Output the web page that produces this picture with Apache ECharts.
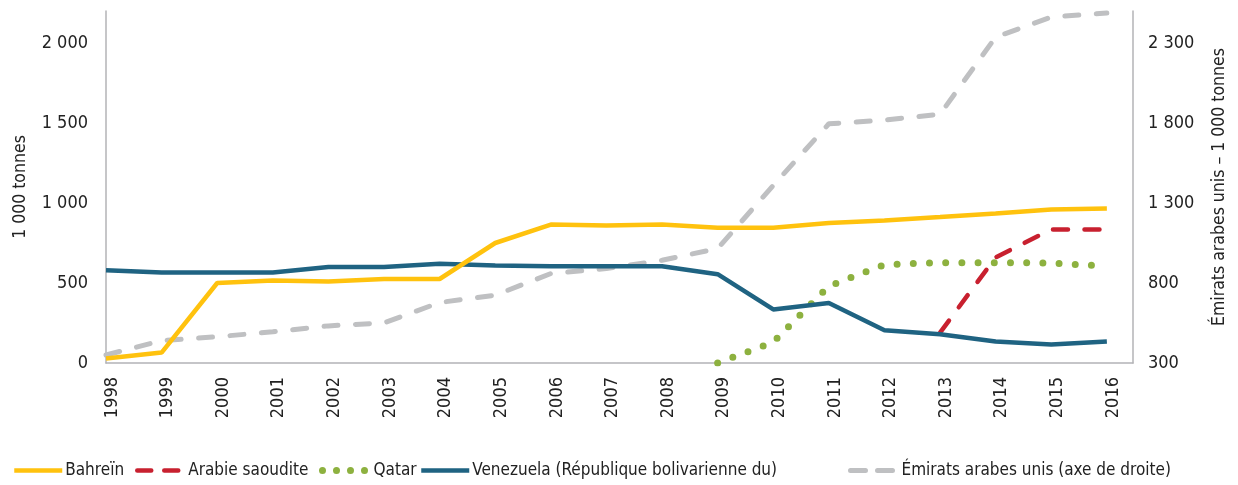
<!DOCTYPE html>
<html>
<head>
<meta charset="utf-8">
<script src="https://cdn.jsdelivr.net/npm/echarts@6/dist/echarts.min.js"></script>
<style>
  html, body { margin: 0; padding: 0; background: #fff; }
  #chart { width: 1238px; height: 485px; }
</style>
</head>
<body>
<div id="chart"></div>
<script>
// années (axe des x)
var years = [1998, 1999, 2000, 2001, 2002, 2003, 2004, 2005, 2006, 2007, 2008, 2009, 2010, 2011, 2012, 2013, 2014, 2015, 2016];

// séries (1 000 tonnes)
var bahrein   = [28, 65, 500, 515, 510, 525, 525, 750, 865, 860, 865, 845, 845, 875, 890, 912, 935, 960, 965];
var arabie    = [null, null, null, null, null, null, null, null, null, null, null, null, null, null, null, 190, 660, 835, 835];
var qatar     = [null, null, null, null, null, null, null, null, null, null, null, 0, 130, 480, 615, 627, 627, 625, 605];
var venezuela = [580, 565, 565, 565, 600, 600, 620, 610, 605, 605, 605, 555, 335, 375, 205, 180, 135, 115, 135];
// axe de droite
var emirats   = [350, 440, 464, 495, 532, 551, 678, 724, 859, 890, 942, 1015, 1410, 1795, 1818, 1855, 2337, 2462, 2487];

var names = ['Bahreïn', 'Arabie saoudite', 'Qatar', 'Venezuela (République bolivarienne du)', 'Émirats arabes unis (axe de droite)'];
var colors = ['#FFC20E', '#C8202F', '#8DB13F', '#1F6382', '#BFC0C2'];

var font = "'DejaVu Sans Condensed', sans-serif";
var ink = '#222';

function pairs(arr) {
  return years.map(function (y, i) { return [y, arr[i]]; });
}
function sep(v) {
  return String(v).replace(/\B(?=(\d{3})+(?!\d))/g, ' ');
}

// une légende par entrée pour caler les positions comme sur l'original
var legendLeft = [7, 130, 314, 414, 843];
var legendLine = [
  { width: 4.5 },
  { width: 4.5, type: [14, 13], cap: 'round' },
  { width: 7, type: [0, 14], cap: 'round' },
  { width: 4.5 },
  { width: 5, type: [15, 12], cap: 'round' }
];
var legends = names.map(function (n, i) {
  return {
    left: legendLeft[i],
    top: 457,
    itemWidth: 48,
    itemHeight: 14,
    itemGap: 4,
    selectedMode: false,
    itemStyle: { opacity: 0 },
    lineStyle: legendLine[i],
    textStyle: { fontFamily: font, fontSize: 17, color: ink, padding: [0, 0, 0, -2] },
    data: [n]
  };
});

var chart = echarts.init(document.getElementById('chart'), null, { renderer: 'canvas' });

var axisLine = { show: true, lineStyle: { color: '#b3b3b6', width: 1.5 } };

var option = {
  animation: false,
  textStyle: { fontFamily: font },
  grid: { left: 106, right: 105, top: 11, bottom: 122 },
  legend: legends,
  xAxis: {
    type: 'value',
    min: 1998,
    max: 2016.47,
    interval: 1,
    splitLine: { show: false },
    axisTick: { show: false },
    axisLine: axisLine,
    axisLabel: {
      rotate: 90,
      margin: 14,
      verticalAlign: 'top',
      lineHeight: 12,
      showMaxLabel: false,
      fontFamily: font,
      fontSize: 18,
      color: ink,
      formatter: function (v) { return Number.isInteger(v) ? String(v) : ''; }
    }
  },
  yAxis: [{
    type: 'value',
    min: 0,
    max: 2200,
    interval: 500,
    name: '1 000 tonnes',
    nameLocation: 'middle',
    nameGap: 77,
    nameTextStyle: { fontFamily: font, fontSize: 17.5, color: ink },
    splitLine: { show: false },
    axisTick: { show: false },
    axisLine: axisLine,
    axisLabel: {
      showMaxLabel: false,
      margin: 18,
      fontFamily: font,
      fontSize: 18,
      color: ink,
      formatter: sep
    }
  }, {
    type: 'value',
    position: 'right',
    min: 300,
    max: 2500,
    interval: 500,
    name: 'Émirats arabes unis – 1 000 tonnes',
    nameLocation: 'middle',
    nameGap: 77,
    nameRotate: 90,
    nameTextStyle: { fontFamily: font, fontSize: 17.5, color: ink },
    splitLine: { show: false },
    axisTick: { show: false },
    axisLine: axisLine,
    axisLabel: {
      showMaxLabel: false,
      margin: 15,
      fontFamily: font,
      fontSize: 18,
      color: ink,
      formatter: sep
    }
  }],
  series: [{
    name: names[0],
    type: 'line',
    symbol: 'none',
    data: pairs(bahrein),
    lineStyle: { color: colors[0], width: 4.5 },
    itemStyle: { color: colors[0] },
    z: 4
  }, {
    name: names[1],
    type: 'line',
    symbol: 'none',
    data: pairs(arabie),
    lineStyle: { color: colors[1], width: 4.5, type: [15, 16.5], cap: 'round' },
    itemStyle: { color: colors[1] },
    z: 3
  }, {
    name: names[2],
    type: 'line',
    symbol: 'none',
    data: pairs(qatar),
    lineStyle: { color: colors[2], width: 7, type: [0, 16.2], cap: 'round' },
    itemStyle: { color: colors[2] },
    z: 3
  }, {
    name: names[3],
    type: 'line',
    symbol: 'none',
    data: pairs(venezuela),
    lineStyle: { color: colors[3], width: 4.5 },
    itemStyle: { color: colors[3] },
    z: 3
  }, {
    name: names[4],
    type: 'line',
    yAxisIndex: 1,
    symbol: 'none',
    data: pairs(emirats),
    lineStyle: { color: colors[4], width: 5, type: [14, 17.5], cap: 'round' },
    itemStyle: { color: colors[4] },
    z: 2
  }]
};

chart.setOption(option);
</script>
</body>
</html>
